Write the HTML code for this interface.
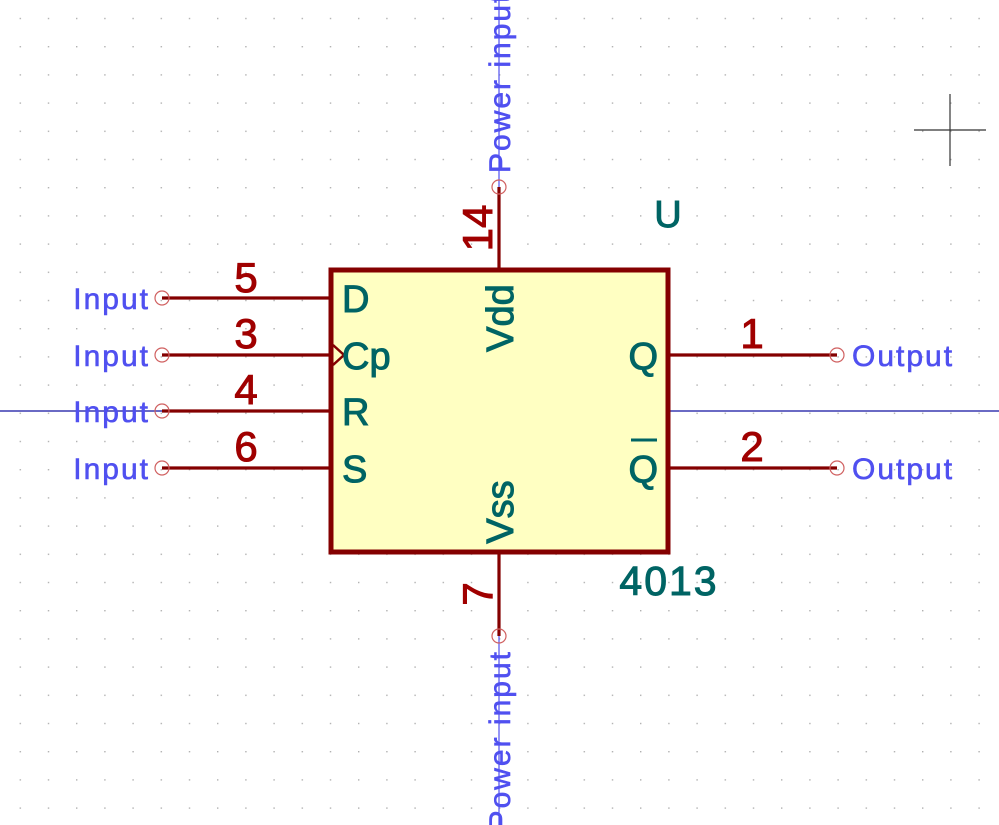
<!DOCTYPE html>
<html><head><meta charset="utf-8"><style>
html,body{margin:0;padding:0;background:#fff;}
svg{display:block;}
text{font-family:"Liberation Sans",sans-serif;}
</style></head><body>
<svg width="999" height="825" viewBox="0 0 999 825" xmlns="http://www.w3.org/2000/svg">
<defs>
<pattern id="grid" x="19.6" y="17.8" width="28.2" height="28.2" patternUnits="userSpaceOnUse">
<rect x="0" y="0" width="1.4" height="1.4" fill="#b0b0b0"/>
</pattern>
</defs>
<rect width="999" height="825" fill="url(#grid)"/>
<line x1="0" y1="411" x2="999" y2="411" stroke="#1010a0" stroke-width="1.2"/>
<line x1="499" y1="0" x2="499" y2="825" stroke="#5050f0" stroke-width="1.2"/>
<g stroke="#333" stroke-width="1.2">
<line x1="914" y1="130" x2="986" y2="130"/><line x1="950" y1="94" x2="950" y2="166"/>
</g>
<rect x="331" y="270" width="337" height="282" fill="#ffffc2" stroke="#840000" stroke-width="5"/>
<g stroke="#840000" stroke-width="3.2">
<line x1="162" y1="298" x2="331" y2="298"/>
<line x1="162" y1="355" x2="331" y2="355"/>
<line x1="162" y1="411" x2="331" y2="411"/>
<line x1="162" y1="468" x2="331" y2="468"/>
<line x1="668" y1="355" x2="837" y2="355"/>
<line x1="668" y1="468" x2="837" y2="468"/>
<line x1="499" y1="187" x2="499" y2="270"/>
<line x1="499" y1="552" x2="499" y2="636"/>
</g>
<polyline points="333,345 344,355 333,365" fill="none" stroke="#840000" stroke-width="2.5"/>
<g fill="none" stroke="#d06060" stroke-width="1.2">
<circle cx="162" cy="298" r="7"/><circle cx="162" cy="355" r="7"/><circle cx="162" cy="411" r="7"/><circle cx="162" cy="468" r="7"/>
<circle cx="837" cy="355" r="7"/><circle cx="837" cy="468" r="7"/>
<circle cx="499" cy="187" r="7"/><circle cx="499" cy="636" r="7"/>
</g>
<g fill="#a00000" stroke="#a00000" stroke-width="1" font-size="42" text-anchor="middle">
<text x="246" y="292">5</text><text x="246" y="348">3</text><text x="246" y="404">4</text><text x="246" y="461">6</text>
<text x="752" y="348">1</text><text x="752" y="461">2</text>
<text transform="translate(492,228) rotate(-90)">14</text>
<text transform="translate(492,594) rotate(-90)">7</text>
</g>
<g fill="#006464" stroke="#006464" stroke-width="1" font-size="38">
<text x="342" y="312">D</text><text x="342" y="369">Cp</text><text x="342" y="425">R</text><text x="342" y="482">S</text>
<text x="658" y="369" text-anchor="end">Q</text><text x="658" y="482" text-anchor="end">Q</text>
<text transform="translate(513,318) rotate(-90)" text-anchor="middle">Vdd</text>
<text transform="translate(513,512) rotate(-90)" text-anchor="middle">Vss</text>
</g>
<line x1="631" y1="440" x2="657" y2="440" stroke="#006464" stroke-width="3"/>
<text x="668" y="227" fill="#006464" stroke="#006464" stroke-width="1" font-size="38" text-anchor="middle">U</text>
<text x="669" y="595" fill="#006464" stroke="#006464" stroke-width="1" font-size="41" text-anchor="middle" letter-spacing="2">4013</text>
<g fill="#5050f0" stroke="#5050f0" stroke-width="0.6" font-size="30" letter-spacing="2">
<text x="150" y="309" text-anchor="end">Input</text>
<text x="150" y="366" text-anchor="end">Input</text>
<text x="150" y="422" text-anchor="end">Input</text>
<text x="150" y="479" text-anchor="end">Input</text>
<text x="852" y="366">Output</text>
<text x="852" y="479">Output</text>
<text transform="translate(510,173) rotate(-90)">Power input</text>
<text transform="translate(510,650) rotate(-90)" text-anchor="end">Power input</text>
</g>
</svg>
</body></html>
